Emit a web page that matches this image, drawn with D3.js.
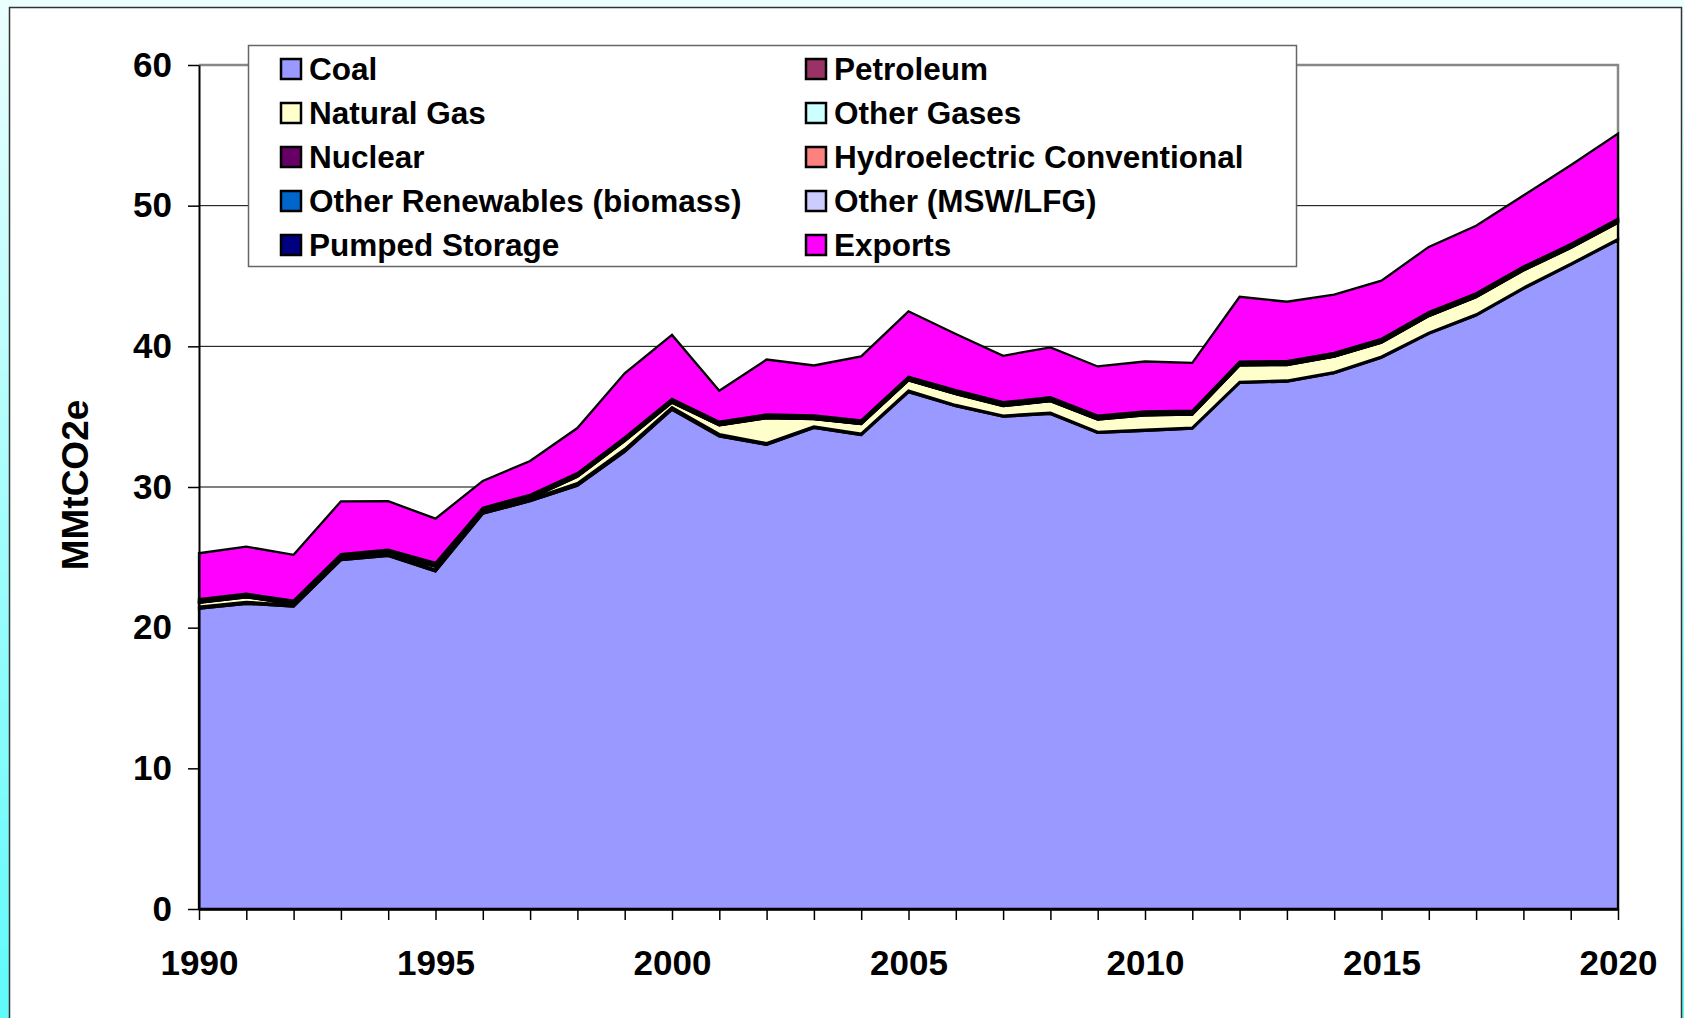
<!DOCTYPE html>
<html>
<head>
<meta charset="utf-8">
<script src="https://cdn.jsdelivr.net/npm/d3@7"></script>
<style>
    body { margin: 0; overflow: hidden; background: #fff; }
    text { font-family: "Liberation Sans", Arial, sans-serif; font-weight: bold; }
</style>
</head>
<body>
<svg width="1684" height="1018"></svg>
<script>
var years = [1990, 1991, 1992, 1993, 1994, 1995, 1996, 1997, 1998, 1999, 2000,
             2001, 2002, 2003, 2004, 2005, 2006, 2007, 2008, 2009, 2010,
             2011, 2012, 2013, 2014, 2015, 2016, 2017, 2018, 2019, 2020]

var coal = [21.35, 21.7, 21.5, 24.8, 25.1, 24.0, 28.1, 29.0, 30.1, 32.5, 35.5,
            33.6, 33.0, 34.2, 33.7, 36.75, 35.75, 35.0, 35.2, 33.85, 34.0,
            34.15, 37.4, 37.5, 38.1, 39.2, 40.9, 42.2, 44.1, 45.8, 47.55]
var petroleum = [0.15, 0.14, 0.12, 0.12, 0.13, 0.12, 0.12, 0.14, 0.18, 0.2, 0.18,
                 0.16, 0.12, 0.1, 0.1, 0.1, 0.08, 0.08, 0.08, 0.07, 0.07,
                 0.07, 0.07, 0.07, 0.07, 0.07, 0.07, 0.07, 0.07, 0.07, 0.07]
var naturalGas = [0.27, 0.32, 0.05, 0.05, 0.05, 0.22, 0.05, 0.05, 0.45, 0.57, 0.32,
                  0.62, 1.77, 0.52, 0.67, 0.72, 0.77, 0.67, 0.82, 0.87, 1.02,
                  0.92, 1.17, 1.1, 1.09, 0.99, 1.18, 1.22, 1.22, 1.12, 1.17]
var otherGases = [0.03, 0.03, 0.03, 0.03, 0.03, 0.03, 0.03, 0.03, 0.03, 0.03, 0.03,
                  0.03, 0.03, 0.03, 0.03, 0.03, 0.03, 0.03, 0.03, 0.03, 0.03,
                  0.03, 0.03, 0.03, 0.03, 0.03, 0.03, 0.03, 0.03, 0.03, 0.03]
var nuclear = [0, 0, 0, 0, 0, 0, 0, 0, 0, 0, 0,
               0, 0, 0, 0, 0, 0, 0, 0, 0, 0,
               0, 0, 0, 0, 0, 0, 0, 0, 0, 0]
var hydro = [0.02, 0.02, 0.02, 0.02, 0.02, 0.02, 0.02, 0.02, 0.02, 0.02, 0.02,
             0.02, 0.02, 0.02, 0.02, 0.02, 0.02, 0.02, 0.02, 0.02, 0.02,
             0.02, 0.02, 0.02, 0.02, 0.02, 0.02, 0.02, 0.02, 0.02, 0.02]
var otherRenewables = [0.08, 0.08, 0.08, 0.08, 0.08, 0.08, 0.08, 0.08, 0.08, 0.08, 0.08,
                       0.08, 0.08, 0.08, 0.08, 0.08, 0.09, 0.09, 0.09, 0.09, 0.09,
                       0.09, 0.09, 0.09, 0.09, 0.09, 0.09, 0.09, 0.09, 0.09, 0.09]
var otherMsw = [0.04, 0.04, 0.05, 0.05, 0.05, 0.05, 0.05, 0.05, 0.05, 0.05, 0.05,
                0.05, 0.06, 0.06, 0.06, 0.06, 0.06, 0.06, 0.06, 0.06, 0.06,
                0.06, 0.06, 0.06, 0.06, 0.06, 0.06, 0.06, 0.06, 0.06, 0.06]
var pumpedStorage = [0.08, 0.08, 0.08, 0.08, 0.08, 0.08, 0.08, 0.08, 0.08, 0.08, 0.08,
                     0.08, 0.08, 0.08, 0.08, 0.08, 0.08, 0.08, 0.08, 0.08, 0.08,
                     0.08, 0.08, 0.08, 0.08, 0.08, 0.08, 0.08, 0.08, 0.08, 0.08]
var exports = [3.27, 3.35, 3.25, 3.75, 3.45, 3.15, 1.9, 2.4, 3.2, 4.55, 4.55,
               2.2, 3.9, 3.55, 4.55, 4.65, 4.0, 3.3, 3.55, 3.5, 3.55,
               3.4, 4.6, 4.22, 4.13, 4.13, 4.64, 4.8, 5.05, 5.6, 6.05]

var seriesNames = ['Coal', 'Petroleum', 'Natural Gas', 'Other Gases', 'Nuclear',
                   'Hydroelectric Conventional', 'Other Renewables (biomass)',
                   'Other (MSW/LFG)', 'Pumped Storage', 'Exports']
var seriesValues = [coal, petroleum, naturalGas, otherGases, nuclear,
                    hydro, otherRenewables, otherMsw, pumpedStorage, exports]
var seriesColors = ['#9999ff', '#993366', '#ffffcc', '#ccffff', '#660066',
                    '#ff8080', '#0066cc', '#ccccff', '#000080', '#ff00ff']

var yTicks = [0, 10, 20, 30, 40, 50, 60]
var xLabels = [1990, 1995, 2000, 2005, 2010, 2015, 2020]
var yTitle = 'MMtCO2e'

var svg = d3.select('svg')

// cyan slide background + white frame
var grad = svg.append('defs').append('linearGradient')
    .attr('id', 'bg').attr('x1', 0).attr('y1', 0).attr('x2', 0).attr('y2', 1)
grad.append('stop').attr('offset', '0%').attr('stop-color', '#ecffff')
grad.append('stop').attr('offset', '100%').attr('stop-color', '#5ffafa')

svg.append('rect').attr('width', 1684).attr('height', 1018).attr('fill', 'url(#bg)')
svg.append('rect')
    .attr('x', 9.5).attr('y', 7.5).attr('width', 1672).attr('height', 1030)
    .attr('fill', '#fff').attr('stroke', '#333').attr('stroke-width', 1.5)

var mapX = d3.scaleLinear().domain([1990, 2020]).range([199, 1618])
var mapY = d3.scaleLinear().domain([0, 60]).range([909, 65])

// gridlines
svg.append('g')
    .selectAll('line')
    .data(yTicks.filter(function(d){ return d > 0 && d < 60 }))
    .enter()
    .append('line')
    .attr('x1', 199).attr('x2', 1618)
    .attr('y1', function(d){ return mapY(d) })
    .attr('y2', function(d){ return mapY(d) })
    .attr('stroke', '#000').attr('stroke-width', 1)

// plot area border (top + right)
svg.append('path')
    .attr('d', `M199,${mapY(60)}H${mapX(2020)}V${mapY(0)}`)
    .attr('fill', 'none').attr('stroke', '#888').attr('stroke-width', 2.5)

var table = years.map(function(yr, i){
    var row = {year: yr}
    seriesNames.forEach(function(name, k){ row[name] = seriesValues[k][i] })
    return row
})

var stacked = d3.stack().keys(seriesNames)(table)

var area = d3.area()
    .x(function(d){ return mapX(d.data.year) })
    .y0(function(d){ return mapY(d[0]) })
    .y1(function(d){ return mapY(d[1]) })

svg.append('g')
    .selectAll('path')
    .data(stacked)
    .enter()
    .append('path')
    .attr('d', area)
    .attr('fill', function(d, i){ return seriesColors[i] })
    .attr('stroke', '#000')
    .attr('stroke-width', 2.3)
    .attr('stroke-linejoin', 'miter')

// axes
var myAxisY = d3.axisLeft(mapY).tickValues(yTicks).tickSize(11).tickPadding(16).tickSizeOuter(0)
var gy = svg.append('g')
    .attr('transform', 'translate(199, 0)')
    .call(myAxisY)
gy.attr('font-size', 35).attr('font-family', null)
gy.select('.domain').attr('stroke-width', 2)
gy.selectAll('.tick line').attr('stroke-width', 1.5)
gy.selectAll('.tick text').attr('fill', '#000')

var myAxisX = d3.axisBottom(mapX)
    .tickValues(years)
    .tickFormat(function(d){ return xLabels.indexOf(d) >= 0 ? d : '' })
    .tickSize(11).tickPadding(30).tickSizeOuter(0)
var gx = svg.append('g')
    .attr('transform', 'translate(0, 909)')
    .call(myAxisX)
gx.attr('font-size', 35).attr('font-family', null)
gx.select('.domain').attr('stroke-width', 2.5)
gx.selectAll('.tick line').attr('stroke-width', 1.5)
gx.selectAll('.tick text').attr('fill', '#000')

svg.append('text')
    .attr('transform', 'translate(88, 485) rotate(-90)')
    .attr('text-anchor', 'middle')
    .attr('font-size', 37)
    .text(yTitle)

// legend
var legend = svg.append('g')
legend.append('rect')
    .attr('x', 248.5).attr('y', 45.5).attr('width', 1048).attr('height', 221)
    .attr('fill', '#fff').attr('stroke', '#666').attr('stroke-width', 1.5)

var items = legend.selectAll('g.item')
    .data(seriesNames)
    .enter()
    .append('g')
    .attr('class', 'item')
    .attr('transform', function(d, i){
        var col = i % 2, row = Math.floor(i / 2)
        return `translate(${col ? 805 : 280}, ${69 + row * 44})`
    })

items.append('rect')
    .attr('x', 1).attr('y', -10).attr('width', 20).attr('height', 20)
    .attr('fill', function(d, i){ return seriesColors[i] })
    .attr('stroke', '#000').attr('stroke-width', 2.5)

items.append('text')
    .attr('x', 29).attr('dy', '0.36em')
    .attr('font-size', 31.5)
    .text(function(d){ return d })
</script>
</body>
</html>
